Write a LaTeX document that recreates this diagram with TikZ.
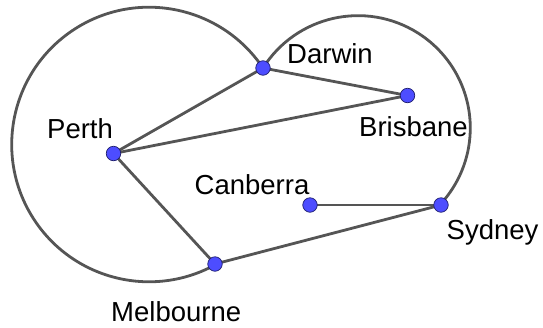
\documentclass[tikz,border=0pt]{standalone}
\usepackage{fontspec}
\setmainfont{Liberation Sans}
\usetikzlibrary{calc}
\definecolor{linegray}{RGB}{85,85,85}
\definecolor{dotblue}{RGB}{77,77,255}
\definecolor{dotedge}{RGB}{30,30,110}
\pgfdeclarelayer{bg}
\pgfsetlayers{bg,main}
\begin{document}
\begin{tikzpicture}[x=1pt,y=1pt,
  edge/.style={draw=linegray,line width=2.8pt},
  city/.style={circle,fill=dotblue,draw=dotedge,line width=0.7pt,minimum size=14.5pt,inner sep=0pt},
  lbl/.style={anchor=base west,inner sep=0pt,font=\fontsize{27.5}{30}\selectfont}]
\useasboundingbox (0,0) rectangle (543,-327);
\coordinate (C1) at (149,-144.5);
\coordinate (C2) at (358,-128);
\node[city] (D) at (263,-68) {};
\node[city] (B) at (407.5,-95.5) {};
\node[city] (P) at (113.5,-153.5) {};
\node[city] (Ca) at (310,-205) {};
\node[city] (S) at (441,-205) {};
\node[city] (M) at (215,-264) {};
\node[lbl] (lP) at (47,-138) {Perth};
\node[lbl] (lD) at (287,-63) {Darwin};
\node[lbl] (lB) at (359,-136) {Brisbane};
\node[lbl] (lCa) at (194.5,-194) {Canberra};
\node[lbl] (lS) at (446.5,-239) {Sydney};
\node[lbl] (lM) at (111,-321) {Melbourne};
\begin{pgfonlayer}{bg}
\draw[edge] let \p1=($(D.center)-(C1)$), \p2=($(M.center)-(C1)$),
  \n1={atan2(\y1,\x1)}, \n2={atan2(\y2,\x2)}, \n3={veclen(\x1,\y1)} in
  (D.center) arc[start angle=\n1, end angle=\n2+360, radius=\n3];
\draw[edge] let \p1=($(D.center)-(C2)$), \p2=($(S.center)-(C2)$),
  \n1={atan2(\y1,\x1)}, \n2={atan2(\y2,\x2)}, \n3={veclen(\x1,\y1)} in
  (D.center) arc[start angle=\n1, end angle=\n2, radius=\n3];
\draw[edge] (P.center) -- (D.center);
\draw[edge] (D.center) -- (B.center);
\draw[edge] (B.center) -- (P.center);
\draw[edge] (P.center) -- (M.center);
\draw[edge] (M.center) -- (S.center);
\draw[edge] (S.center) -- (Ca.center);
\end{pgfonlayer}
\end{tikzpicture}
\end{document}
